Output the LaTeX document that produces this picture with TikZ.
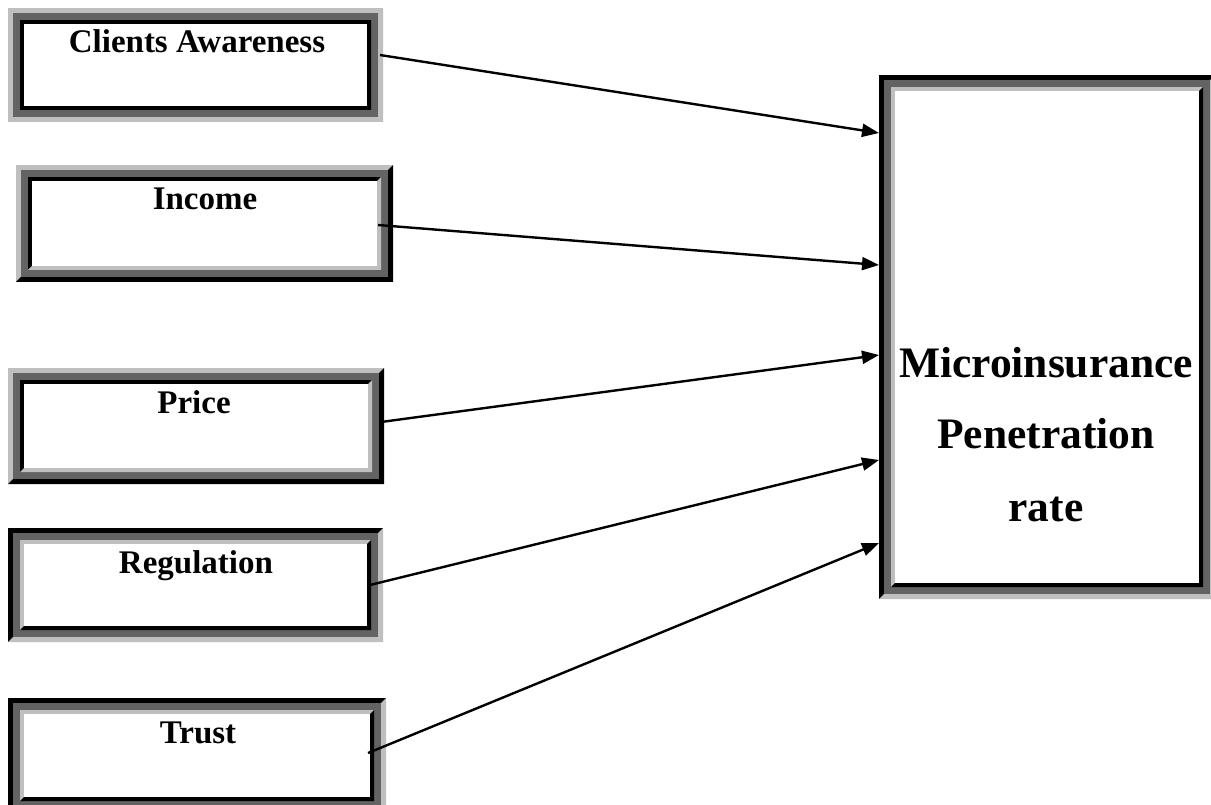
\documentclass[tikz,border=0pt]{standalone}
\usepackage{fontspec}
\setmainfont{Liberation Serif}
\usetikzlibrary{arrows.meta}
\definecolor{lgray}{gray}{0.75}
\definecolor{dgray}{gray}{0.39}
% #1 x1, #2 y1, #3 x2, #4 y2 (outer, y downward), #5 outer TL colour, #6 outer BR colour, #7 inner TL colour, #8 inner BR colour
\newcommand\fancyFrame[8]{%
  \fill[#5] (#1,#2) rectangle (#3,#4);
  \fill[#6] (#3,#2) -- (#3,#4) -- (#1,#4) -- ({#1+5},{#4-5}) -- ({#3-5},{#4-5}) -- ({#3-5},{#2+5}) -- cycle;
  \fill[dgray] ({#1+5},{#2+5}) rectangle ({#3-5},{#4-5});
  \fill[#7] ({#1+12},{#2+12}) rectangle ({#3-12},{#4-12});
  \fill[#8] ({#3-12},{#2+12}) -- ({#3-12},{#4-12}) -- ({#1+12},{#4-12}) -- ({#1+16},{#4-16}) -- ({#3-16},{#4-16}) -- ({#3-16},{#2+16}) -- cycle;
  \fill[white] ({#1+16},{#2+16}) rectangle ({#3-16},{#4-16});
}
\begin{document}
\begin{tikzpicture}[x=1pt,y=-1pt,
  lbl/.style={anchor=base, inner sep=0pt, font=\fontsize{33}{38}\selectfont\bfseries},
  biglbl/.style={anchor=base, inner sep=0pt, font=\fontsize{43.5}{50}\selectfont\bfseries},
  boxnode/.style={draw=none, inner sep=0pt, rectangle},
  arr/.style={line width=2.4pt, -{Triangle[length=17pt,width=13pt]}}]
\useasboundingbox (0,0) rectangle (1211,805);
\clip (0,0) rectangle (1211,805);
\fill[white] (0,0) rectangle (1211,805);

% frames
\fancyFrame{8}{8}{383}{122}{lgray}{lgray}{black}{black}
\fancyFrame{16}{165}{393}{282}{lgray}{black}{black}{lgray}
\fancyFrame{8}{368}{384}{484}{lgray}{black}{black}{lgray}
\fancyFrame{8}{528}{383}{642}{black}{lgray}{lgray}{black}
\fancyFrame{8}{698}{386}{813}{black}{lgray}{lgray}{black}
\fancyFrame{879}{75}{1215}{599}{black}{lgray}{lgray}{black}

% nodes (outer extents of the frames)
\node[boxnode, minimum width=375pt, minimum height=114pt] (b1) at (195.5,65) {};
\node[boxnode, minimum width=377pt, minimum height=117pt] (b2) at (204.5,223.5) {};
\node[boxnode, minimum width=376pt, minimum height=116pt] (b3) at (196,426) {};
\node[boxnode, minimum width=375pt, minimum height=114pt] (b4) at (195.5,585) {};
\node[boxnode, minimum width=378pt, minimum height=115pt] (b5) at (197,755.5) {};
\node[boxnode, minimum width=332pt, minimum height=524pt] (m) at (1045,337) {};

% labels
\node[lbl] (l1) at (197,53) {Clients Awareness};
\node[lbl] (l2) at (205,210) {Income};
\node[lbl] (l3) at (194,413) {Price};
\node[lbl] (l4) at (196,573) {Regulation};
\node[lbl] (l5) at (198,743) {Trust};
\node[biglbl] (m1) at (1046,377) {Microinsurance};
\node[biglbl] (m2) at (1046,448.5) {Penetration};
\node[biglbl] (m3) at (1046,521) {rate};

% connector ends
\coordinate (s1) at (380,55);
\coordinate (s2) at (378,225);
\coordinate (s3) at (381,422);
\coordinate (s4) at (370,585);
\coordinate (s5) at (368,753);
\coordinate (t1) at (879,133);
\coordinate (t2) at (879,265);
\coordinate (t3) at (879,355);
\coordinate (t4) at (879,460);
\coordinate (t5) at (879,543);

\draw[arr] (s1) -- (t1);
\draw[arr] (s2) -- (t2);
\draw[arr] (s3) -- (t3);
\draw[arr] (s4) -- (t4);
\draw[arr] (s5) -- (t5);
\end{tikzpicture}
\end{document}
